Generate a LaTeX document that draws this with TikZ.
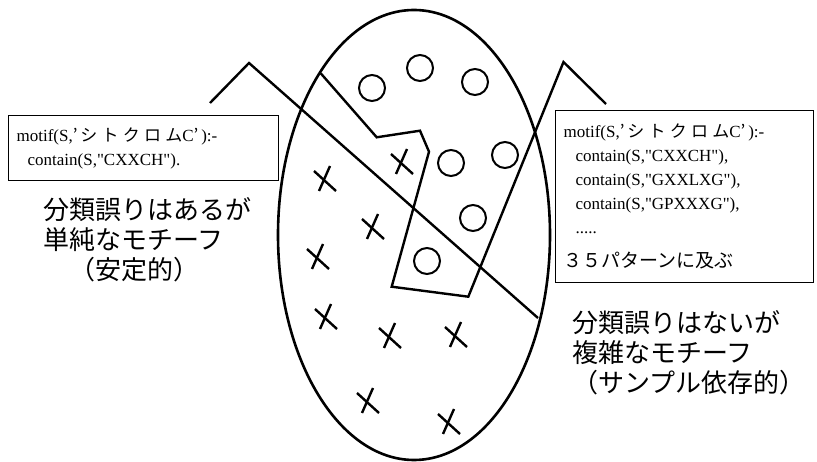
\documentclass[tikz,border=0pt]{standalone}
\usepackage{fontspec}
\setmainfont{Liberation Serif}[Ligatures=TeXOff]
\newfontfamily\jp{Noto Sans CJK JP}
\newfontfamily\jpwide[LetterSpace=25]{Noto Sans CJK JP}

\tikzset{
  codebox/.style={draw, line width=1.2pt, anchor=north west, inner xsep=8pt,
    inner ysep=0pt, align=left, font=\fontsize{17}{24}\selectfont},
  jlabel/.style={anchor=north west, inner sep=0pt, align=left,
    font=\jp\fontsize{26}{30}\selectfont},
  ring/.style={line width=2pt},
  crossline/.style={line width=2.4pt},
  border/.style={line width=2.4pt, line join=miter}
}

\begin{document}
\begin{tikzpicture}[x=1pt,y=-1pt]
\useasboundingbox (0,0) rectangle (817,462);
% the sample set
\draw[line width=2.6pt] (414,235) ellipse [x radius=136, y radius=225];
% simple motif boundary
\draw[border] (210,103) -- (249,63) -- (538,318);
% complex motif boundary
\draw[border] (320.7,73.3) -- (376.7,137.3) -- (420,130.7) -- (429,151.7)
  -- (391.7,286.7) -- (468.3,296.7) -- (563.5,62) -- (606,104);
% positive examples
\foreach \x/\y in {372/88, 420/68, 475/82, 451/163, 505/155, 473/218, 427/261}
  \draw[ring] (\x,\y) circle (13);
% negative examples
\foreach \x/\y in {402/162, 325/179, 373/227, 318/257, 326/317, 390/336,
    456/335, 368/401, 449/422}
  \draw[crossline] (\x+5,\y-13) -- (\x-6,\y+12) (\x-11,\y-8) -- (\x+11,\y+12);

\node[codebox, text width=254pt, minimum height=65pt] (simple) at (8,115)
  {motif(S,{\jp ’}\,{\jpwide シトクロム}C{\jp ’}\,):-\\
   \hspace*{11pt}contain(S,"CXXCH").};
\node[codebox, text width=242pt, minimum height=172pt] (complex) at (555,110)
  {motif(S,{\jp ’}\,{\jpwide シトクロム}C{\jp ’}\,):-\\
   \hspace*{12pt}contain(S,"CXXCH"),\\
   \hspace*{12pt}contain(S,"GXXLXG"),\\
   \hspace*{12pt}contain(S,"GPXXXG"),\\
   \hspace*{12pt}.....\\[10pt]
   {\jp\fontsize{19}{24}\selectfont ３５パターンに及ぶ}};

\node[jlabel] (simplenote) at (43,197)
  {分類誤りはあるが\\単純なモチーフ\\\hspace*{1em}（安定的）};
\node[jlabel] (complexnote) at (572,310)
  {分類誤りはないが\\複雑なモチーフ\\（サンプル依存的）};
\end{tikzpicture}
\end{document}
